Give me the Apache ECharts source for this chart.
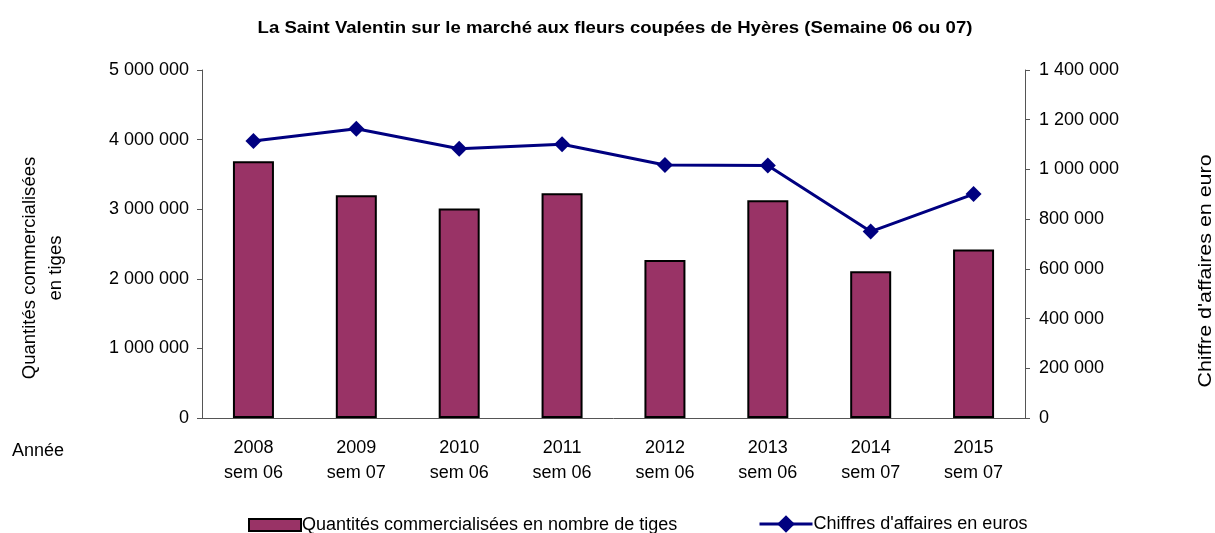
<!DOCTYPE html>
<html>
<head>
<meta charset="utf-8">
<script src="https://cdn.jsdelivr.net/npm/echarts@6/dist/echarts.min.js"></script>
<style>
  html, body { margin: 0; padding: 0; background: #fff; }
  #chart { width: 1215px; height: 533px; }
</style>
</head>
<body>
<div id="chart"></div>
<script>
const annees = ['2008', '2009', '2010', '2011', '2012', '2013', '2014', '2015'];
const semaines = ['sem 06', 'sem 07', 'sem 06', 'sem 06', 'sem 06', 'sem 06', 'sem 07', 'sem 07'];
const quantites = [3690000, 3200000, 3010000, 3230000, 2270000, 3130000, 2110000, 2420000];
const chiffres = [1114000, 1164000, 1083000, 1101000, 1018000, 1016000, 750000, 901000];

const police = '"Liberation Sans", Arial, sans-serif';
const categories = annees.map((a, i) => a + '\n' + semaines[i]);

// séparateur de milliers à la française
const fmt = v => String(v).replace(/\B(?=(\d{3})+(?!\d))/g, ' ');

const chart = echarts.init(document.getElementById('chart'));
chart.setOption({
    animation: false,
    backgroundColor: '#fff',
    textStyle: { fontFamily: police },
    grid: { left: 202, right: 190, top: 70, bottom: 115 },
    legend: [{
        data: [{ name: 'Quantités commercialisées en nombre de tiges', icon: 'rect' }],
        left: 243, top: 511,
        itemWidth: 52, itemHeight: 12,
        itemStyle: { borderColor: '#000', borderWidth: 2 },
        textStyle: { fontSize: 18, color: '#000', padding: [0, 0, 0, -4] }
    }, {
        data: ['Chiffres d\'affaires en euros'],
        left: 753, top: 510,
        itemWidth: 53, itemHeight: 22,
        lineStyle: { width: 3, color: '#000080' },
        textStyle: { fontSize: 18, color: '#000', padding: [0, 0, 0, -4] }
    }],
    xAxis: {
        type: 'category',
        data: categories,
        axisLine: { lineStyle: { color: '#555', width: 1 } },
        axisTick: { show: false },
        axisLabel: { fontSize: 18, color: '#000', margin: 18, lineHeight: 25 }
    },
    yAxis: [{
        type: 'value',
        min: 0, max: 5000000, interval: 1000000,
        splitLine: { show: false },
        axisLine: { show: true, lineStyle: { color: '#555' } },
        axisTick: { show: true, length: 5, lineStyle: { color: '#555' } },
        axisLabel: { fontSize: 18, color: '#000', margin: 13, formatter: fmt }
    }, {
        type: 'value',
        min: 0, max: 1400000, interval: 200000,
        splitLine: { show: false },
        axisLine: { show: true, lineStyle: { color: '#555' } },
        axisTick: { show: true, length: 5, lineStyle: { color: '#555' } },
        axisLabel: { fontSize: 18, color: '#000', margin: 14, formatter: fmt }
    }],
    graphic: [{
        type: 'text', x: 615, y: 29, scaleX: 1.16,
        style: {
            text: 'La Saint Valentin sur le marché aux fleurs coupées de Hyères (Semaine 06 ou 07)',
            font: 'bold 16px ' + police, fill: '#000', align: 'center', verticalAlign: 'middle'
        }
    }, {
        type: 'text', left: 12, top: 442,
        style: { text: 'Année', font: '18px ' + police, fill: '#000' }
    }, {
        type: 'text', x: 43, y: 268, rotation: Math.PI / 2, scaleX: 1.03,
        style: {
            text: 'Quantités commercialisées\nen tiges', font: '18px ' + police,
            fill: '#000', align: 'center', verticalAlign: 'middle', lineHeight: 26
        }
    }, {
        type: 'text', x: 1206, y: 271, rotation: Math.PI / 2, scaleX: 1.19,
        style: {
            text: 'Chiffre d\'affaires en euro', font: '18px ' + police,
            fill: '#000', align: 'center', verticalAlign: 'middle'
        }
    }],
    series: [{
        name: 'Quantités commercialisées en nombre de tiges',
        type: 'bar',
        data: quantites,
        barWidth: 41,
        itemStyle: { color: '#993366', borderColor: '#000', borderWidth: 2 }
    }, {
        name: 'Chiffres d\'affaires en euros',
        type: 'line',
        yAxisIndex: 1,
        data: chiffres,
        symbol: 'diamond',
        symbolSize: 16,
        lineStyle: { color: '#000080', width: 3 },
        itemStyle: { color: '#000080' }
    }]
});
</script>
</body>
</html>
